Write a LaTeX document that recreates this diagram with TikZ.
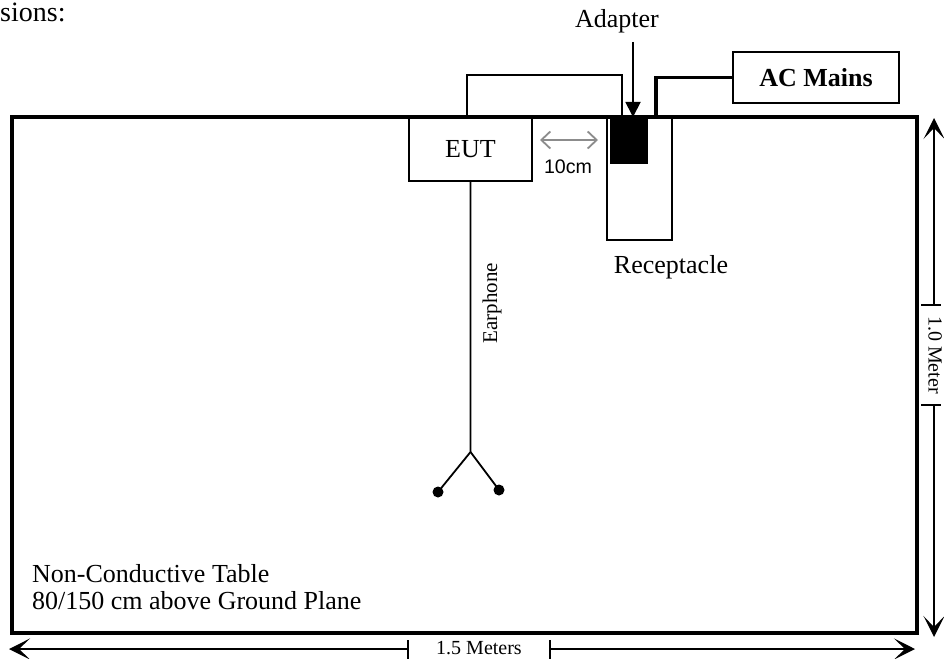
\documentclass[tikz,border=0pt]{standalone}
\usepackage{fontspec}
\setmainfont{Liberation Serif}
\newfontfamily\arialf{Liberation Sans}
\usetikzlibrary{arrows.meta}
\begin{document}
\begin{tikzpicture}[x=1pt,y=-1pt,
  thinline/.style={line width=1.8pt},
  box/.style={draw, line width=1.8pt, inner sep=0pt, outer sep=0pt, anchor=north west},
  lbl/.style={font=\fontsize{26}{30}\selectfont, inner sep=0pt},
  dimlbl/.style={font=\fontsize{20}{24}\selectfont, inner sep=0pt},
  dimtip/.tip={Stealth[length=21pt,width=21pt,inset=11pt]},
  dimline/.style={line width=1.5pt},
  dot/.style={circle, fill, inner sep=0pt, minimum size=11pt},
]
\useasboundingbox (0,0) rectangle (944,658);

% text cut at the top
\node[font=\fontsize{28}{32}\selectfont, inner sep=0pt, anchor=base west] (sions) at (0,22) {sions:};

% table
\node[draw, line width=3.5pt, inner sep=0pt, outer sep=0pt, anchor=north west,
      minimum width=905pt, minimum height=516pt] (table) at (12,117) {};

% EUT
\node[box, lbl, minimum width=123pt, minimum height=64pt] (eut) at (409,117) {EUT};

% receptacle and adapter
\node[box, minimum width=65pt, minimum height=123pt] (rec) at (607,117) {};
\node[fill, inner sep=0pt, outer sep=0pt, anchor=north west,
      minimum width=38pt, minimum height=47pt] (adp) at (610,117) {};
\node[lbl] (reclbl) at (671,267) {Receptacle};

% AC mains
\node[box, lbl, minimum width=166pt, minimum height=51pt] (ac) at (733,52) {\textbf{AC Mains}};

% adapter label and arrow
\node[lbl] (adlbl) at (617,21) {Adapter};
\coordinate (adtop) at (633,42);
\draw[thinline, -{Triangle[length=15pt,width=15pt]}] (adtop) -- (adtop |- adp.north);

% wire EUT -> receptacle
\draw[thinline] ([xshift=-3.5pt]eut.north) -- ++(0,-42) -| ([xshift=15pt]rec.north west);

% mains cable
\draw[line width=3.5pt] ([xshift=8pt]adp.north east) |- (ac.west);

% 10 cm spacing
\coordinate (sp1) at (540,140);
\coordinate (sp2) at (598,140);
\draw[line width=1.8pt, color=black!45,
      {Straight Barb[length=9pt,width=17pt]}-{Straight Barb[length=9pt,width=17pt]}] (sp1) -- (sp2);
\node[font=\arialf\fontsize{19.6}{22}\selectfont, inner sep=0pt] (cmlbl) at (568,167) {10cm};

% earphone
\coordinate (jn) at (470.5,452);
\node[dot] (e1) at (438,492) {};
\node[dot] (e2) at (499,490) {};
\draw[thinline] (eut.south) -- (jn) -- (e1.center);
\draw[thinline] (jn) -- (e2.center);
\node[font=\fontsize{21}{24}\selectfont, inner sep=0pt, rotate=90] (earlbl) at (492,303) {Earphone};

% table text
\node[lbl, anchor=base west] (t1) at (32,582) {Non-Conductive Table};
\node[lbl, anchor=base west] (t2) at (32,609) {80/150 cm above Ground Plane};

% vertical dimension
\node[dimlbl, rotate=-90] (vlbl) at (935,355) {1.0 Meter};
\coordinate (vtop) at (934,118);
\coordinate (vbot) at (934,637);
\coordinate (vt1) at (934,305);
\coordinate (vt2) at (934,405);
\draw[dimline, {dimtip}-] (vtop) -- (vt1);
\draw[dimline, -{dimtip}] (vt2) -- (vbot);
\draw[dimline] ([xshift=-13pt]vt1) -- ([xshift=7pt]vt1);
\draw[dimline] ([xshift=-13pt]vt2) -- ([xshift=7pt]vt2);

% horizontal dimension
\node[dimlbl] (hlbl) at (479,648) {1.5 Meters};
\coordinate (hl) at (9,649);
\coordinate (hr) at (915,649);
\coordinate (ht1) at (408,649);
\coordinate (ht2) at (550,649);
\draw[dimline, {dimtip}-] (hl) -- (ht1);
\draw[dimline, -{dimtip}] (ht2) -- (hr);
\draw[dimline] ([yshift=-12pt]ht1) -- ([yshift=9pt]ht1);
\draw[dimline] ([yshift=-12pt]ht2) -- ([yshift=9pt]ht2);
\end{tikzpicture}
\end{document}
